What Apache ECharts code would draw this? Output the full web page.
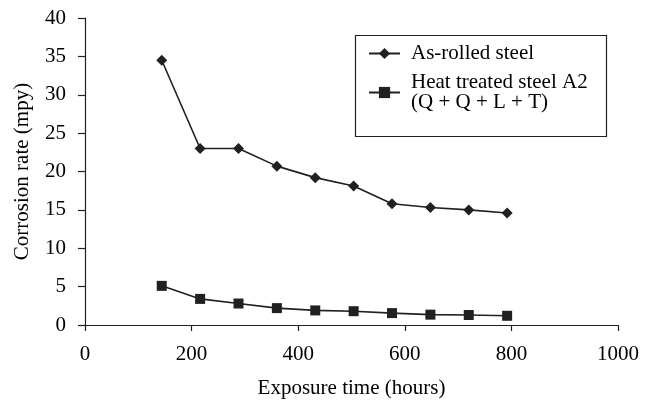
<!DOCTYPE html>
<html>
<head>
<meta charset="utf-8">
<script src="https://cdn.jsdelivr.net/npm/echarts@6/dist/echarts.min.js"></script>
<style>html,body{margin:0;padding:0;background:#fff}#c{width:652px;height:404px}</style>
</head>
<body>
<div id="c"></div>
<script>
const hours = [144, 216, 288, 360, 432, 504, 576, 648, 720, 792];
const asRolled = [34.5, 23.0, 23.0, 20.7, 19.2, 18.1, 15.8, 15.3, 15.0, 14.6];
const heatTreated = [5.1, 3.4, 2.8, 2.2, 1.9, 1.8, 1.55, 1.35, 1.3, 1.2];
const seriesNames = ['As-rolled steel', 'Heat treated steel A2\n(Q + Q + L + T)'];
const xTitle = 'Exposure time (hours)';
const yTitle = 'Corrosion rate (mpy)';

const ink = '#231f20';
const font = 'Liberation Serif';
const chart = echarts.init(document.getElementById('c'), null, {renderer: 'canvas'});
const pair = (xs, ys) => xs.map((x, i) => [x, ys[i]]);
chart.setOption({
  animation: false,
  backgroundColor: '#fff',
  grid: {left: 85, right: 34, top: 18, bottom: 76, containLabel: false},
  graphic: [{
    type: 'rect', left: 353, top: 33, shape: {width: 251, height: 101},
    style: {fill: 'none', stroke: ink, lineWidth: 1.2}, z: 10
  }],
  legend: {
    orient: 'vertical', left: 368, top: 43, padding: 0, itemGap: 8,
    itemWidth: 31, itemHeight: 14,
    textStyle: {fontFamily: font, fontSize: 21, color: '#000', lineHeight: 20, padding: [0, 0, 0, 6]},
    data: seriesNames
  },
  xAxis: {
    type: 'value', min: 0, max: 1000, interval: 200,
    name: xTitle, nameLocation: 'middle', nameGap: 53,
    nameTextStyle: {fontFamily: font, fontSize: 21, color: '#000'},
    axisLine: {show: true, onZero: false, lineStyle: {color: ink, width: 1.2}},
    axisTick: {show: true, inside: false, length: 6, lineStyle: {color: ink, width: 1.2}},
    axisLabel: {fontFamily: font, fontSize: 21, color: '#000', margin: 19, formatter: v => String(v)},
    splitLine: {show: false}
  },
  yAxis: {
    type: 'value', min: 0, max: 40, interval: 5,
    name: yTitle, nameLocation: 'middle', nameGap: 52,
    nameTextStyle: {fontFamily: font, fontSize: 21, color: '#000'},
    axisLine: {show: true, lineStyle: {color: ink, width: 1.2}},
    axisTick: {show: true, inside: false, length: 7, lineStyle: {color: ink, width: 1.2}},
    axisLabel: {fontFamily: font, fontSize: 21, color: '#000', margin: 19, formatter: v => String(v)},
    splitLine: {show: false}
  },
  series: [
    {
      name: seriesNames[0], type: 'line', data: pair(hours, asRolled),
      symbol: 'diamond', symbolSize: 11, showAllSymbol: true,
      lineStyle: {color: ink, width: 1.6}, itemStyle: {color: ink, borderWidth: 0}
    },
    {
      name: seriesNames[1], type: 'line', data: pair(hours, heatTreated),
      symbol: 'rect', symbolSize: 10, showAllSymbol: true,
      lineStyle: {color: ink, width: 1.6}, itemStyle: {color: ink, borderWidth: 0}
    }
  ]
});
</script>
</body>
</html>
